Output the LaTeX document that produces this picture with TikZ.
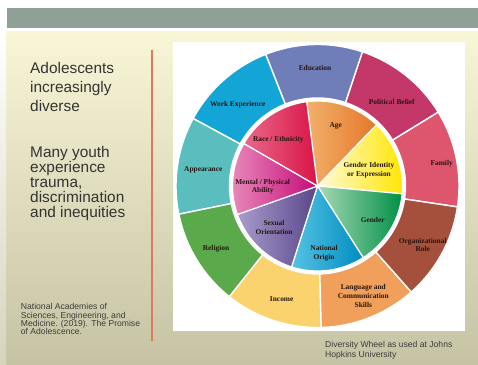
\documentclass[tikz,border=0pt]{standalone}
\usepackage{fontspec}
\setmainfont{Liberation Serif}
\newfontfamily\arialf{Liberation Sans}
\definecolor{bgtop}{HTML}{F9F6D7}
\definecolor{bgbot}{HTML}{C6C3A4}
\definecolor{stripbot}{HTML}{D6D4BC}
\definecolor{band}{HTML}{8FA096}
\definecolor{redline}{HTML}{E0785F}
\definecolor{ltext}{HTML}{333333}
\definecolor{ctext}{HTML}{3C3C3C}
\definecolor{wtext}{HTML}{26160F}
\definecolor{cedu}{HTML}{6F7DB8}
\definecolor{cpol}{HTML}{C43769}
\definecolor{cfam}{HTML}{DE556E}
\definecolor{corg}{HTML}{A5503C}
\definecolor{clang}{HTML}{F0A05A}
\definecolor{cinc}{HTML}{FAD26E}
\definecolor{crel}{HTML}{5AAA4B}
\definecolor{capp}{HTML}{5ABEBE}
\definecolor{cwork}{HTML}{14A5D7}
\definecolor{ageL}{HTML}{F2B06A}
\definecolor{ageR}{HTML}{E5782A}
\definecolor{gidL}{HTML}{FFFBD8}
\definecolor{gidR}{HTML}{FFE600}
\definecolor{genL}{HTML}{A8D8B4}
\definecolor{genR}{HTML}{009148}
\definecolor{natL}{HTML}{55C3E3}
\definecolor{natR}{HTML}{008CC0}
\definecolor{sexL}{HTML}{A89CCB}
\definecolor{sexR}{HTML}{5A468C}
\definecolor{menL}{HTML}{E88CBC}
\definecolor{menR}{HTML}{C60A78}
\definecolor{racL}{HTML}{E8688A}
\definecolor{racR}{HTML}{DA1446}
\begin{document}
\begin{tikzpicture}[x=1pt,y=1pt,
  wl/.style={font=\fontsize{7.4}{8.6}\selectfont\bfseries, text=wtext, align=center, inner sep=0pt},
  lt/.style={font=\arialf\fontsize{15.4}{15.4}\selectfont, text=ltext, anchor=base west, inner sep=0pt},
  ct/.style={font=\arialf\fontsize{8.6}{8.6}\selectfont, text=ctext, anchor=base west, inner sep=0pt},
  captext/.style={font=\arialf\fontsize{8.6}{8.6}\selectfont, text=ctext, anchor=base west, inner sep=0pt},
  seg/.style={draw=white, line width=1.4pt, line join=round},
  wedge/.style={draw=white, line width=1.2pt, line join=round}]
\useasboundingbox (0,0) rectangle (478,364);
\fill[white] (0,0) rectangle (478,364);
\shade[top color=bgtop, bottom color=bgbot] (6,0) rectangle (478,332);
\shade[top color=white, bottom color=stripbot] (0,0) rectangle (6,332);
\fill[band] (7,336) rectangle (478,356);
\coordinate (lt) at (152,314);
\coordinate (lb) at (152,23);
\draw[redline, line width=1.2pt] (lt) -- (lb);
\fill[white] (173,33) rectangle (465,322);

\coordinate (C) at (317.5,178);
\begin{scope}[shift={(C)}]
  \foreach \a/\b/\c in {-8.5/31.5/cfam, 31.5/71.5/cpol, 71.5/111.5/cedu, 111.5/151.5/cwork, 151.5/191.5/capp, 191.5/231.5/crel, 231.5/271.5/cinc, 271.5/311.5/clang, 311.5/351.5/corg}{
    \filldraw[fill=\c, seg] (\a:88) arc[start angle=\a, end angle=\b, radius=88] -- (\b:141.5) arc[start angle=\b, end angle=\a, radius=141.5] -- cycle;
  }
  \foreach \a/\b/\l/\r in {46/97.3/ageL/ageR, -5.3/46/gidL/gidR, -57.5/-5.3/genL/genR, -107.8/-57.5/natL/natR, -160.4/-107.8/sexL/sexR, 150/199.6/menL/menR, 97.3/150/racL/racR}{
    \shadedraw[left color=\l, right color=\r, wedge] (0,0) -- (\a:85) arc[start angle=\a, end angle=\b, radius=85] -- cycle;
  }
\end{scope}

% outer labels
\node[wl] (edu) at (315,295.7) {Education};
\node[wl] (pol) at (391.7,262.3) {Political Belief};
\node[wl] (fam) at (441.7,200.7) {Family};
\node[wl] (org) at (422.7,119) {Organizational\\Role};
\node[wl] (lang) at (363.3,68) {Language and\\Communication\\Skills};
\node[wl] (inc) at (281.7,64.7) {Income};
\node[wl] (rel) at (216,115) {Religion};
\node[wl] (app) at (203.3,194) {Appearance};
\node[wl] (work) at (237.7,259) {Work Experience};
% inner labels
\node[wl] (age) at (335.7,238) {Age};
\node[wl] (gid) at (369,194) {Gender Identity\\or Expression};
\node[wl] (gen) at (372.7,144) {Gender};
\node[wl] (nat) at (324,110.7) {National\\Origin};
\node[wl] (sex) at (274,136.3) {Sexual\\Orientation};
\node[wl] (men) at (262.7,177.3) {Mental / Physical\\Ability};
\node[wl] (rac) at (278.3,224.7) {Race / Ethnicity};

% left text
\node[lt] (t1) at (30,290) {Adolescents};
\node[lt] (t2) at (30,271.2) {increasingly};
\node[lt] (t3) at (30,252.4) {diverse};
\node[lt] (t4) at (30,206.7) {Many youth};
\node[lt] (t5) at (30,191.6) {experience};
\node[lt] (t6) at (30,176.5) {trauma,};
\node[lt] (t7) at (30,161.4) {discrimination};
\node[lt] (t8) at (30,146.3) {and inequities};

\node[ct] (c1) at (20.7,54.7) {National Academies of};
\node[ct] (c2) at (20.7,45.9) {Sciences, Engineering, and};
\node[ct] (c3) at (20.7,37.4) {Medicine. (2019). The Promise};
\node[ct] (c4) at (20.7,29.2) {of Adolescence.};

\node[captext] (d1) at (325,16.7) {Diversity Wheel as used at Johns};
\node[captext] (d2) at (325,6.3) {Hopkins University};
\end{tikzpicture}
\end{document}
